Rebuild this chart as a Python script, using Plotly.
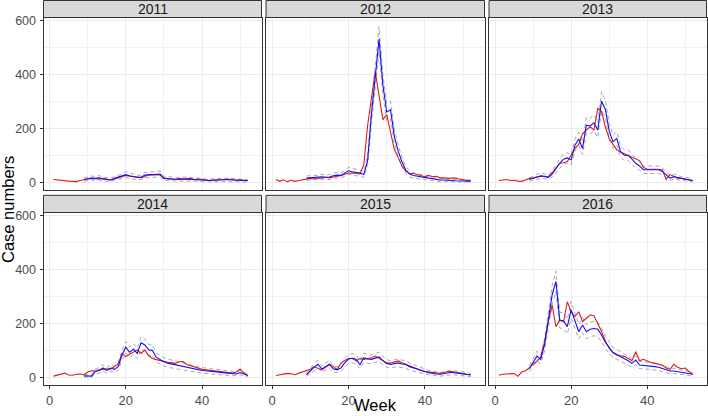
import plotly.graph_objects as go

# ---------------- data ----------------
years = ["2011", "2012", "2013", "2014", "2015", "2016"]
weeks_obs = list(range(1, 53))
weeks_pred = list(range(9, 53))

obs_2011 = [10, 8, 6, 5, 4, 3, 2, 6, 10, 12, 14, 13, 12, 14, 10, 8, 12, 16, 22, 25,
            22, 20, 18, 17, 20, 28, 27, 28, 27, 15, 14, 12, 10, 14, 12, 13, 14, 10, 12, 11,
            9, 6, 8, 9, 10, 9, 11, 10, 8, 9, 7, 6]
obs_2012 = [10, 3, 9, 2, 7, 3, 6, 8, 10, 14, 12, 16, 15, 18, 16, 20, 22, 24, 30, 34,
            33, 33, 30, 65, 210, 313, 411, 320, 232, 250, 189, 121, 91, 60, 41, 32, 32, 28, 22, 20,
            25, 20, 22, 16, 16, 14, 15, 15, 12, 10, 6, 4]
obs_2013 = [6, 9, 10, 6, 7, 4, 3, 8, 14, 16, 20, 22, 20, 20, 35, 52, 70, 72, 76, 100,
            125, 140, 180, 193, 205, 193, 273, 262, 205, 162, 140, 120, 112, 106, 100, 94, 88, 80, 55, 48,
            48, 48, 48, 45, 10, 28, 20, 15, 14, 12, 8, 5]
obs_2014 = [5, 8, 12, 16, 9, 8, 12, 13, 10, 20, 25, 24, 28, 30, 32, 31, 40, 50, 89, 77,
            86, 95, 102, 89, 102, 80, 70, 66, 62, 59, 56, 54, 52, 58, 59, 48, 43, 38, 34, 30,
            28, 26, 24, 22, 21, 19, 17, 16, 20, 31, 15, 7]
obs_2015 = [7, 9, 12, 15, 14, 10, 16, 20, 24, 30, 40, 35, 28, 38, 48, 40, 30, 52, 63, 70,
            70, 61, 70, 67, 70, 73, 79, 70, 60, 54, 53, 58, 61, 54, 48, 42, 36, 30, 26, 22,
            20, 18, 16, 15, 18, 22, 22, 19, 18, 15, 12, 10]
obs_2016 = [8, 12, 13, 13, 14, 4, 20, 25, 35, 50, 60, 75, 132, 206, 268, 188, 212, 206, 280, 243,
            225, 243, 206, 219, 231, 228, 200, 170, 135, 108, 92, 83, 80, 78, 70, 62, 95, 62, 67, 60,
            55, 52, 48, 45, 35, 30, 49, 38, 32, 35, 22, 12]

pred_2011 = [10, 13, 15, 14, 16, 12, 10, 8, 14, 18, 22, 28, 24, 20, 18, 18, 26, 27, 28, 28,
             30, 14, 12, 12, 11, 10, 12, 11, 10, 9, 10, 8, 6, 6, 7, 8, 8, 9, 10, 8, 7, 6, 6, 5]
upper_2011 = [16, 20, 23, 21, 24, 19, 16, 14, 21, 26, 31, 39, 34, 29, 26, 26, 36, 37, 39, 39,
              41, 21, 19, 19, 18, 16, 19, 18, 16, 15, 16, 14, 11, 11, 12, 14, 14, 15, 16, 14, 12, 11, 11, 10]
lower_2011 = [4, 6, 7, 7, 8, 5, 4, 2, 7, 10, 13, 17, 14, 11, 10, 10, 16, 17, 17, 17,
              19, 7, 5, 5, 4, 4, 5, 4, 4, 3, 4, 2, 1, 1, 2, 2, 2, 3, 4, 2, 2, 1, 1, 1]

pred_2012 = [15, 16, 18, 17, 20, 18, 19, 24, 26, 25, 32, 42, 38, 36, 34, 28, 80, 250, 400, 530,
             360, 260, 268, 170, 115, 75, 45, 30, 25, 22, 20, 18, 15, 13, 10, 8, 8, 6, 6, 5, 5, 4, 4, 4]
upper_2012 = [23, 24, 26, 25, 29, 26, 28, 34, 36, 35, 43, 55, 50, 48, 46, 39, 98, 282, 440, 576,
              398, 292, 301, 196, 136, 92, 58, 41, 35, 31, 29, 26, 23, 20, 16, 14, 14, 11, 11, 10, 10, 8, 8, 8]
lower_2012 = [7, 8, 10, 9, 11, 10, 10, 14, 16, 15, 21, 29, 26, 24, 22, 17, 62, 218, 360, 484,
              322, 228, 235, 144, 94, 58, 32, 19, 15, 13, 11, 10, 7, 6, 4, 2, 2, 1, 1, 1, 1, 0, 0, 0]

pred_2013 = [10, 14, 20, 24, 22, 18, 30, 50, 70, 85, 90, 82, 137, 160, 125, 211, 208, 220, 193, 300,
             270, 190, 150, 162, 113, 100, 100, 85, 70, 60, 46, 46, 46, 46, 46, 40, 27, 15, 20, 16, 14, 12, 9, 6]
upper_2013 = [16, 21, 29, 34, 31, 26, 41, 64, 87, 103, 109, 100, 160, 185, 147, 240, 237, 250, 221, 335,
              303, 218, 174, 187, 134, 120, 120, 103, 87, 75, 60, 60, 60, 60, 60, 53, 37, 23, 29, 24, 21, 19, 15, 11]
lower_2013 = [4, 7, 11, 14, 13, 10, 19, 36, 53, 67, 71, 64, 114, 135, 103, 182, 179, 190, 165, 265,
              237, 162, 126, 137, 92, 80, 80, 67, 53, 45, 32, 32, 32, 32, 32, 27, 17, 7, 11, 8, 7, 5, 3, 1]

pred_2014 = [6, 6, 5, 22, 26, 35, 26, 35, 30, 40, 83, 112, 93, 105, 89, 128, 120, 102, 100, 74,
             65, 58, 53, 50, 46, 43, 40, 38, 35, 32, 29, 26, 25, 23, 21, 19, 18, 17, 16, 15, 13, 18, 13, 7]
upper_2014 = [11, 11, 10, 31, 36, 47, 36, 47, 41, 53, 101, 133, 112, 125, 108, 151, 142, 122, 120, 91,
              81, 73, 68, 64, 60, 56, 53, 50, 47, 43, 40, 36, 35, 33, 30, 28, 26, 25, 24, 23, 20, 26, 20, 12]
lower_2014 = [1, 1, 1, 13, 16, 23, 16, 23, 19, 27, 65, 91, 74, 85, 70, 105, 98, 82, 80, 57,
              49, 43, 38, 36, 32, 30, 27, 26, 23, 21, 18, 16, 15, 13, 12, 10, 10, 9, 8, 7, 6, 10, 6, 2]

pred_2015 = [10, 25, 38, 49, 31, 40, 49, 32, 28, 35, 54, 68, 71, 67, 47, 73, 68, 67, 72, 76,
             62, 52, 48, 52, 54, 50, 48, 40, 35, 30, 25, 22, 18, 15, 13, 12, 14, 16, 19, 17, 15, 13, 11, 9]
upper_2015 = [16, 35, 50, 63, 42, 53, 63, 43, 39, 47, 69, 84, 88, 83, 61, 90, 84, 83, 89, 93,
              78, 66, 62, 66, 69, 64, 62, 53, 47, 41, 35, 31, 26, 23, 20, 19, 21, 24, 28, 25, 23, 20, 18, 15]
lower_2015 = [4, 15, 26, 35, 20, 27, 35, 21, 17, 23, 39, 52, 54, 51, 33, 56, 52, 51, 55, 59,
              46, 38, 34, 38, 39, 36, 34, 27, 23, 19, 15, 13, 10, 7, 6, 5, 7, 8, 10, 9, 7, 6, 4, 3]

pred_2016 = [33, 55, 79, 67, 120, 212, 305, 355, 212, 209, 188, 250, 212, 169, 194, 169, 178, 181, 178, 157,
             130, 110, 92, 85, 78, 70, 62, 52, 64, 46, 45, 44, 42, 40, 38, 33, 28, 24, 24, 22, 20, 18, 15, 12]
upper_2016 = [44, 70, 97, 83, 142, 241, 340, 393, 241, 238, 215, 282, 241, 195, 222, 195, 205, 208, 205, 182,
              153, 131, 111, 103, 96, 87, 78, 66, 80, 60, 58, 57, 55, 53, 50, 44, 39, 34, 34, 31, 29, 26, 23, 19]
lower_2016 = [22, 40, 61, 51, 98, 183, 270, 317, 183, 180, 161, 218, 183, 143, 166, 143, 151, 154, 151, 132,
              107, 89, 73, 67, 60, 53, 46, 38, 48, 32, 32, 31, 29, 27, 26, 22, 17, 14, 14, 13, 11, 10, 7, 5]

obs = [obs_2011, obs_2012, obs_2013, obs_2014, obs_2015, obs_2016]
pred = [pred_2011, pred_2012, pred_2013, pred_2014, pred_2015, pred_2016]
upper = [upper_2011, upper_2012, upper_2013, upper_2014, upper_2015, upper_2016]
lower = [lower_2011, lower_2012, lower_2013, lower_2014, lower_2015, lower_2016]

x_ticks = [0, 20, 40]
y_ticks = [0, 200, 400, 600]

# ---------------- layout geometry (pixels) ----------------
W, H = 708, 416
cols_px = [(43.5, 261.5), (266.0, 484.5), (489.0, 706.5)]
rows_panel_px = [(17.5, 190.0), (212.5, 385.3)]
rows_strip_px = [(0.5, 17.5), (195.3, 212.5)]

def px_x(v):
    return v / W

def px_y(v):
    return 1 - v / H

FONT = "Liberation Sans, Arial, sans-serif"
RED = "#DD1C1C"
BLUE = "#1010F5"
GREY_DASH = "#A8A8A8"

fig = go.Figure()
layout_axes = {}
shapes = []
annotations = []

for i, yr in enumerate(years):
    r, c = divmod(i, 3)
    xa = "x" if i == 0 else f"x{i+1}"
    ya = "y" if i == 0 else f"y{i+1}"
    xname = "xaxis" if i == 0 else f"xaxis{i+1}"
    yname = "yaxis" if i == 0 else f"yaxis{i+1}"

    for band in (lower[i], upper[i]):
        fig.add_trace(go.Scatter(x=weeks_pred, y=band, mode="lines", xaxis=xa, yaxis=ya,
                                 line=dict(color=GREY_DASH, width=1, dash="4px,3px"),
                                 showlegend=False, hoverinfo="skip"))
    fig.add_trace(go.Scatter(x=weeks_obs, y=obs[i], mode="lines", xaxis=xa, yaxis=ya,
                             line=dict(color=RED, width=1.1), showlegend=False))
    fig.add_trace(go.Scatter(x=weeks_pred, y=pred[i], mode="lines", xaxis=xa, yaxis=ya,
                             line=dict(color=BLUE, width=1.1), showlegend=False))

    x0, x1 = cols_px[c]
    py0, py1 = rows_panel_px[r]
    show_x = (r == 1)
    show_y = (c == 0)
    layout_axes[xname] = dict(
        domain=[px_x(x0), px_x(x1)], anchor=ya, range=[-1.6, 55.6],
        tickvals=x_ticks, ticktext=[str(v) for v in x_ticks],
        showticklabels=show_x, ticks="outside" if show_x else "", ticklen=3,
        tickcolor="#333333", tickwidth=1,
        tickfont=dict(family=FONT, size=13, color="#4D4D4D"),
        showgrid=True, gridcolor="#EBEBEB", gridwidth=1,
        minor=dict(tickvals=[10, 30, 50], showgrid=True, gridcolor="#F2F2F2", gridwidth=0.6),
        showline=True, mirror=True, linecolor="#333333", linewidth=1,
        zeroline=False, fixedrange=True, automargin=False,
    )
    layout_axes[yname] = dict(
        domain=[px_y(py1), px_y(py0)], anchor=xa, range=[-29, 610],
        tickvals=y_ticks, ticktext=[str(v) for v in y_ticks],
        showticklabels=show_y, ticks="outside" if show_y else "", ticklen=3,
        tickcolor="#333333", tickwidth=1, ticklabelstandoff=1,
        tickfont=dict(family=FONT, size=12.5, color="#4D4D4D"),
        showgrid=True, gridcolor="#EBEBEB", gridwidth=1,
        minor=dict(tickvals=[100, 300, 500], showgrid=True, gridcolor="#F2F2F2", gridwidth=0.6),
        showline=True, mirror=True, linecolor="#333333", linewidth=1,
        zeroline=False, fixedrange=True, automargin=False,
    )

    sy0, sy1 = rows_strip_px[r]
    shapes.append(dict(type="rect", xref="paper", yref="paper",
                       x0=px_x(x0), x1=px_x(x1), y0=px_y(sy1), y1=px_y(sy0),
                       fillcolor="#D9D9D9", line=dict(color="#333333", width=1), layer="above"))
    annotations.append(dict(text=yr, xref="paper", yref="paper",
                            x=px_x((x0 + x1) / 2), y=px_y((sy0 + sy1) / 2),
                            xanchor="center", yanchor="middle", showarrow=False,
                            font=dict(family=FONT, size=14, color="#1A1A1A")))

annotations.append(dict(text="Week", xref="paper", yref="paper",
                        x=px_x((cols_px[0][0] + cols_px[2][1]) / 2), y=px_y(416),
                        xanchor="center", yanchor="bottom", showarrow=False,
                        font=dict(family=FONT, size=16.5, color="#000000")))
annotations.append(dict(text="Case numbers", xref="paper", yref="paper",
                        x=px_x(0), y=px_y(210),
                        xanchor="left", yanchor="middle", textangle=-90, showarrow=False,
                        xshift=-3,
                        font=dict(family=FONT, size=16.5, color="#000000")))

fig.update_layout(
    width=W, height=H,
    margin=dict(l=0, r=0, t=0, b=0),
    paper_bgcolor="white", plot_bgcolor="white",
    shapes=shapes, annotations=annotations,
    showlegend=False,
    **layout_axes,
)

fig.write_html("out.html", config={"displayModeBar": False},
               post_script="document.body.style.margin='0';document.body.style.padding='0';document.body.style.overflow='hidden';")
